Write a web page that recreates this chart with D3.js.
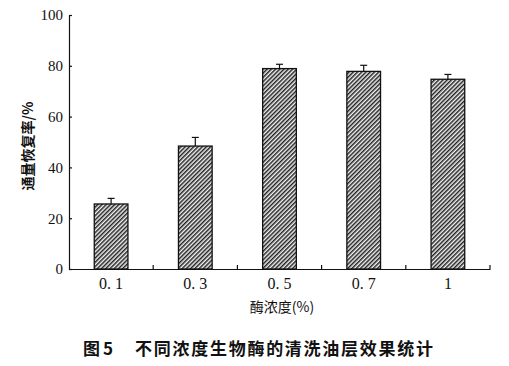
<!DOCTYPE html>
<html><head><meta charset="utf-8">
<script src="https://cdn.jsdelivr.net/npm/d3@7"></script>
<style>body{margin:0;background:#fff}svg{display:block}</style>
</head><body>
<script>
const categories = ["0.1","0.3","0.5","0.7","1"];
const xTickLabels = ["0. 1","0. 3","0. 5","0. 7","1"];
const values = [25.6, 48.4, 78.9, 77.8, 74.7];
const errors = [2.2, 3.4, 1.7, 2.4, 1.9];
const yTicks = [0,20,40,60,80,100];

const W=509,H=366;
const m={left:69,right:19,top:15,bottom:97};
const svg=d3.select("body").append("svg").attr("width",W).attr("height",H);
const defs=svg.append("defs");
const pat=defs.append("pattern").attr("id","hatch").attr("patternUnits","userSpaceOnUse")
  .attr("width",3).attr("height",3).attr("patternTransform","rotate(45)");
pat.append("rect").attr("width",3).attr("height",3).attr("fill","#f2f2f2");
pat.append("line").attr("x1",0.75).attr("y1",0).attr("x2",0.75).attr("y2",3).attr("stroke","#222").attr("stroke-width",1.5);

const x=d3.scaleBand().domain(categories).range([m.left,W-m.right]).paddingInner(0.6).paddingOuter(0.3);
const y=d3.scaleLinear().domain([0,100]).range([H-m.bottom,m.top]);
const step=x.step();

const g=svg.append("g");
g.selectAll("rect.bar").data(categories).join("rect").attr("class","bar")
  .attr("x",d=>x(d)).attr("width",x.bandwidth())
  .attr("y",(d,i)=>y(values[i])).attr("height",(d,i)=>y(0)-y(values[i]))
  .attr("fill","url(#hatch)").attr("stroke","#111").attr("stroke-width",1.3);
categories.forEach((c,i)=>{
  const cx=x(c)+x.bandwidth()/2;
  g.append("line").attr("x1",cx).attr("x2",cx).attr("y1",y(values[i])).attr("y2",y(values[i]+errors[i])).attr("stroke","#111").attr("stroke-width",1.2);
  g.append("line").attr("x1",cx-3.5).attr("x2",cx+3.5).attr("y1",y(values[i]+errors[i])).attr("y2",y(values[i]+errors[i])).attr("stroke","#111").attr("stroke-width",1.2);
});

const font="'Liberation Serif','DejaVu Serif',serif";
const ya=svg.append("g").attr("transform",`translate(${m.left},0)`)
  .call(d3.axisLeft(y).tickValues(yTicks).tickSizeInner(-3).tickSizeOuter(0).tickPadding(6));
ya.select(".domain").attr("stroke","#111").attr("stroke-width",1.2);
ya.selectAll(".tick line").attr("stroke","#111").attr("stroke-width",1.2);
ya.selectAll("text").attr("font-family",font).attr("font-size",15).attr("fill","#111");

const xa=svg.append("g").attr("transform",`translate(0,${y(0)})`)
  .call(d3.axisBottom(x).tickFormat((d,i)=>xTickLabels[i]).tickSize(0).tickPadding(9));
xa.select(".domain").attr("stroke","#111").attr("stroke-width",1.2);
xa.selectAll("text").attr("font-family",font).attr("font-size",16).attr("fill","#111");
const sepPos=categories.map(c=>x(c)+x.bandwidth()/2+step/2);
xa.selectAll("line.sep").data(sepPos).join("line").attr("class","sep")
  .attr("x1",d=>d).attr("x2",d=>d).attr("y1",0).attr("y2",-4).attr("stroke","#111").attr("stroke-width",1.2);

svg.append("text").attr("x",282).attr("y",312)
  .attr("text-anchor","middle").attr("font-family","'Noto Sans CJK SC',sans-serif").attr("font-size",14).attr("fill","#111")
  .text("酶浓度(%)");
svg.append("text").attr("transform","translate(33,146) rotate(-90)")
  .attr("text-anchor","middle").attr("font-family","'Noto Sans CJK SC',sans-serif").attr("font-weight","bold").attr("font-size",14).attr("fill","#111")
  .text("通量恢复率/%");
const capStyle=t=>t.attr("y",355).attr("font-family","'Noto Sans CJK SC',sans-serif").attr("font-weight","bold").attr("font-size",17).attr("fill","#111");
capStyle(svg.append("text").attr("x",83).attr("textLength",30).attr("lengthAdjust","spacing")).text("图 5");
capStyle(svg.append("text").attr("x",135).attr("textLength",298).attr("lengthAdjust","spacing")).text("不同浓度生物酶的清洗油层效果统计");
</script>
</body></html>
